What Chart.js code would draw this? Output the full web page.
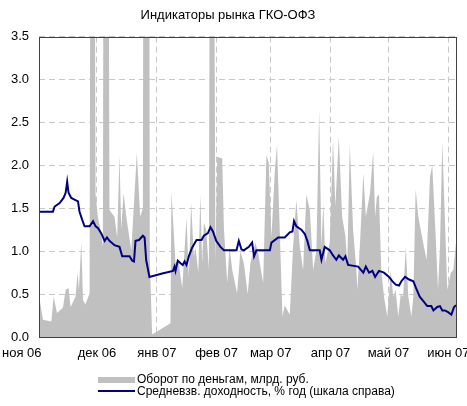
<!DOCTYPE html>
<html>
<head>
<meta charset="utf-8">
<script src="https://cdn.jsdelivr.net/npm/chart.js@4"></script>
<style>
  html, body { margin: 0; background: #fff; }
  #wrap { width: 467px; height: 406px; }
</style>
</head>
<body>
<div id="wrap"><canvas id="chart"></canvas></div>
<script>
// days counted from 1 Nov 2006
const monthDays = [0, 30, 61, 92, 120, 151, 181, 212];
const monthLabels = ["ноя 06", "дек 06", "янв 07", "фев 07", "мар 07", "апр 07", "май 07", "июн 07"];
const yTicks = [0, 0.5, 1, 1.5, 2, 2.5, 3, 3.5];

const turnoverDay = [0, 2.1, 6.4, 7.6, 9.3, 12.4, 13.8, 15.3, 16.4, 18.9, 20.0, 20.7, 21.9, 22.8, 24.0, 25.9,
  26.2, 26.9, 28.4, 29.3, 30.5, 32.2, 33.1, 33.6, 35.7, 36.5, 39.1, 40.5, 41.7, 42.6, 43.8, 45.2, 47.8,
  50.7, 52.4, 53.8, 54.3, 56.9, 57.4, 58.6, 68.1, 68.6, 70.7, 72.1, 74.2, 76.4, 77.6, 78.8, 80.2, 81.1,
  82.5, 83.6, 84.5, 85.4, 86.6, 88.0, 88.8, 90.2, 91.4, 92.3, 94.9, 95.8, 97.5, 98.7, 100.1, 102.6,
  104.3, 106.1, 108.1, 109.5, 112.1, 113.5, 116.1, 117.8, 119.0, 120.4, 122.2, 123.3, 124.7, 126.1,
  127.3, 129.9, 131.6, 133.3, 135.1, 136.8, 138.5, 140.3, 142.0, 143.7, 145.1, 146.3, 147.3, 148.3,
  150.6, 152.3, 153.5, 155.3, 157.0, 158.7, 159.7, 161.0, 162.7, 164.4, 164.9, 166.3, 168.0, 169.3,
  171.5, 173.1, 174.1, 175.0, 176.1, 177.3, 178.7, 180.4, 182.2, 183.5, 184.7, 186.1, 187.4, 188.6,
  190.0, 191.3, 192.9, 193.9, 195.1, 196.5, 197.7, 199.4, 200.8, 202.5, 203.7, 205.5, 206.7, 207.7,
  208.9, 210.2, 211.5, 213.3, 214.6, 216];
const turnoverValue = [0.48, 0.20, 0.18, 0.47, 0.28, 0.34, 0.55, 0.57, 0.35, 0.47, 0.75, 0.55, 1.11, 0.43, 0.38, 0.49,
  0.50, 8, 8, 1.66, 1.40, 1.21, 1.05, 8, 8, 1.48, 1.40, 1.16, 2.12, 1.25, 1.68, 1.40, 1.01,
  2.15, 1.40, 1.50, 8, 8, 0.90, 0.03, 0.16, 1.70, 0.86, 0.90, 0.57, 1.39, 0.70, 1.56, 0.94, 1.04,
  0.75, 1.66, 0.86, 1.33, 1.25, 0.78, 8, 8, 0.86, 2.10, 2.08, 1.26, 0.63, 1.05, 0.78, 0.51,
  1.00, 0.86, 0.50, 0.86, 1.10, 0.98, 0.63, 2.12, 2.03, 1.16, 1.95, 2.24, 1.25, 0.24,
  0.37, 0.26, 1.05, 1.60, 1.05, 0.78, 1.66, 1.48, 0.78, 1.01, 2.65, 1.05, 1.56, 0.86,
  1.10, 2.30, 1.52, 2.34, 1.40, 1.18, 0.86, 2.24, 1.25, 0.78, 0.55, 1.10, 1.91, 1.40,
  1.68, 2.16, 1.40, 1.63, 1.66, 0.78, 0.47, 0.24, 0.78, 0.47, 0.55, 0.24, 0.50, 0.47,
  1.05, 0.47, 0.24, 0.47, 1.72, 1.40, 1.25, 1.05, 0.90, 1.86, 2.00, 1.16, 0.55, 1.05,
  2.28, 1.40, 0.55, 0.75, 0.78, 1.10];

const yieldDay = [0, 7.2, 8.1, 10.7, 12.7, 13.8, 14.6, 15.3, 16.7, 18.4, 20.2, 21.0, 22.3, 23.6, 26.2, 28.0,
  29.3, 30.5, 32.2, 34.0, 35.2, 36.5, 39.1, 41.7, 43.1, 46.9, 48.3, 49.2, 50.0, 51.8, 53.8, 54.7, 55.5,
  57.2, 63.8, 69.4, 70.2, 70.7, 71.9, 73.3, 74.5, 75.4, 76.4, 77.6, 79.3, 81.6, 84.2, 85.4, 87.5, 88.8,
  90.1, 91.8, 94.0, 95.8, 102.3, 103.5, 104.9, 106.1, 108.7, 110.4, 111.4, 112.6, 119.6, 120.4, 123.9,
  127.3, 129.9, 131.3, 132.1, 133.3, 135.9, 137.7, 139.0, 140.3, 145.4, 146.3, 148.0, 150.6, 152.3,
  154.0, 155.3, 157.5, 158.7, 160.1, 165.3, 168.0, 169.3, 171.0, 172.7, 174.1, 176.1, 178.7, 181.3,
  183.0, 184.8, 186.5, 187.7, 189.6, 191.7, 193.9, 195.1, 197.2, 199.4, 201.1, 203.2, 204.3, 206.3,
  207.7, 208.9, 210.2, 211.9, 213.6, 215.0, 216];
const yieldValue = [1.46, 1.46, 1.52, 1.56, 1.62, 1.68, 1.81, 1.68, 1.62, 1.60, 1.58, 1.46, 1.37, 1.29, 1.29, 1.35,
  1.29, 1.27, 1.21, 1.12, 1.16, 1.12, 1.07, 1.05, 0.94, 0.94, 0.89, 0.88, 1.12, 1.13, 1.18, 1.16, 0.90,
  0.70, 0.74, 0.77, 0.82, 0.77, 0.89, 0.86, 0.84, 0.88, 0.84, 0.94, 1.04, 1.13, 1.13, 1.18, 1.21, 1.28,
  1.23, 1.12, 1.05, 1.01, 1.01, 1.12, 1.02, 1.01, 1.05, 1.10, 0.94, 1.01, 1.01, 1.10, 1.16,
  1.16, 1.22, 1.23, 1.35, 1.29, 1.25, 1.20, 1.12, 1.01, 1.01, 0.90, 1.05, 1.01, 0.95,
  0.90, 0.95, 0.90, 0.94, 0.84, 0.82, 0.75, 0.82, 0.75, 0.77, 0.70, 0.77, 0.75, 0.70,
  0.65, 0.61, 0.60, 0.65, 0.70, 0.67, 0.65, 0.58, 0.47, 0.41, 0.36, 0.36, 0.31, 0.35,
  0.36, 0.31, 0.31, 0.29, 0.26, 0.35, 0.37];

const seriesNames = ["Оборот по деньгам, млрд. руб.", "Средневзв. доходность, % год (шкала справа)"];

const FONT = "'Liberation Sans', Arial, sans-serif";
const gridColor = "#c8c8c8";

const frameAndLegend = {
  id: "frameAndLegend",
  afterDatasetsDraw(chart) {
    const { ctx, chartArea: a } = chart;
    ctx.save();
    ctx.strokeStyle = "#404040";
    ctx.lineWidth = 1;
    ctx.strokeRect(Math.round(a.left) + 0.5, Math.round(a.top) + 0.5,
      Math.round(a.right - a.left), Math.round(a.bottom - a.top));
    ctx.restore();
  },
  afterDraw(chart) {
    const ctx = chart.ctx;
    const ds = chart.data.datasets;
    ctx.save();
    // first month label sits left of the axis start, as in the original;
    // take its vertical placement from the axis' own label item
    const first = chart.scales.x.getLabelItems()[0];
    ctx.font = first.font.string;
    ctx.fillStyle = "#000";
    ctx.textAlign = "left";
    ctx.textBaseline = first.options.textBaseline;
    ctx.fillText(monthLabels[0], 2, first.options.translation[1] + first.textOffset);

    ctx.font = "12px " + FONT;
    ctx.textBaseline = "middle";
    ctx.fillStyle = ds[1].backgroundColor;
    ctx.fillRect(98, 377, 37, 6);
    ctx.strokeStyle = ds[0].borderColor;
    ctx.lineWidth = 2;
    ctx.beginPath();
    ctx.moveTo(98, 391);
    ctx.lineTo(135, 391);
    ctx.stroke();
    ctx.fillStyle = "#000";
    ctx.fillText(ds[1].label, 137, 380);
    ctx.fillText(ds[0].label, 137, 392);
    ctx.restore();
  }
};

new Chart(document.getElementById("chart"), {
  type: "line",
  data: {
    datasets: [
      {
        label: seriesNames[1],
        data: yieldDay.map((d, i) => ({ x: d, y: yieldValue[i] })),
        borderColor: "#000080",
        borderWidth: 2,
        pointRadius: 0,
        tension: 0,
        fill: false,
        order: 0
      },
      {
        label: seriesNames[0],
        data: turnoverDay.map((d, i) => ({ x: d, y: turnoverValue[i] })),
        borderColor: "#c0c0c0",
        backgroundColor: "#c0c0c0",
        borderWidth: 0,
        pointRadius: 0,
        tension: 0,
        fill: "origin",
        order: 1
      }
    ]
  },
  options: {
    responsive: true,
    maintainAspectRatio: false,
    animation: false,
    layout: { padding: { left: 0, right: 11, top: 0, bottom: 37 } },
    plugins: {
      legend: { display: false },
      tooltip: { enabled: false },
      title: {
        display: true,
        text: "Индикаторы рынка ГКО-ОФЗ",
        color: "#000",
        font: { family: FONT, size: 13, weight: "normal" },
        padding: { top: 8, bottom: 13 }
      }
    },
    scales: {
      x: {
        type: "linear",
        min: 0,
        max: 216,
        afterBuildTicks: s => { s.ticks = monthDays.map(v => ({ value: v })); },
        afterFit: s => { s.height = 32; s.paddingLeft = 0; s.paddingRight = 0; },
        ticks: {
          autoSkip: false,
          maxRotation: 0,
          padding: 9,
          color: c => (c.index === 0 ? "rgba(0,0,0,0)" : "#000"),
          font: { family: FONT, size: 13 },
          callback: v => monthLabels[monthDays.indexOf(v)]
        },
        grid: { color: gridColor, drawTicks: false },
        border: { display: false, dash: [6, 4] }
      },
      y: {
        min: 0,
        max: 3.5,
        afterBuildTicks: s => { s.ticks = yTicks.map(v => ({ value: v })); },
        afterFit: s => { s.width = 39; },
        ticks: {
          padding: 10,
          color: "#000",
          font: { family: FONT, size: 13 },
          callback: v => v.toFixed(1)
        },
        grid: { color: gridColor, drawTicks: false },
        border: { display: false, dash: [6, 4] }
      }
    }
  },
  plugins: [frameAndLegend]
});
</script>
</body>
</html>
